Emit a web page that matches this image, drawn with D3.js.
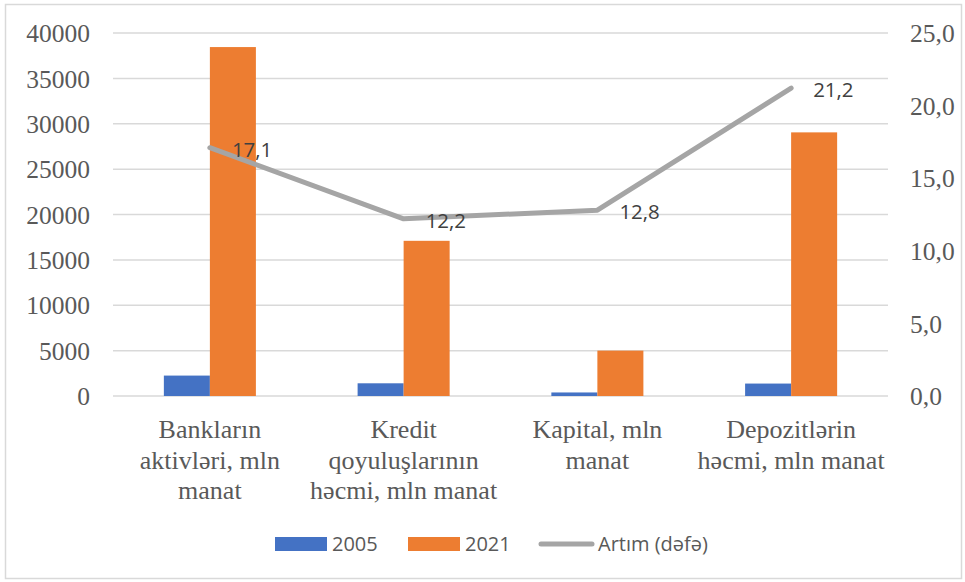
<!DOCTYPE html>
<html>
<head>
<meta charset="utf-8">
<script src="https://cdn.jsdelivr.net/npm/d3@7"></script>
<style>
  html, body { margin: 0; padding: 0; background: #fff; }
  svg { display: block; }
</style>
</head>
<body>
<svg id="chart" width="965" height="582"></svg>
<script>
// Banking sector indicators, 2005 vs 2021, with growth multiple
const categories = [
  ["Bankların", "aktivləri, mln", "manat"],
  ["Kredit", "qoyuluşlarının", "həcmi, mln manat"],
  ["Kapital, mln", "manat"],
  ["Depozitlərin", "həcmi, mln manat"]
];
const categoryKeys = ["assets", "credit", "capital", "deposits"];
const values2005 = [2250, 1400, 390, 1370];
const values2021 = [38450, 17100, 5000, 29050];
const growth = [17.1, 12.2, 12.8, 21.2];
const growthLabels = ["17,1", "12,2", "12,8", "21,2"];
const leftTicks = [0, 5000, 10000, 15000, 20000, 25000, 30000, 35000, 40000];
const rightTicks = [0, 5, 10, 15, 20, 25];
const seriesNames = ["2005", "2021", "Artım (dəfə)"];

const colors = { y2005: "#4472c4", y2021: "#ed7d31", line: "#a5a5a5" };
const serif = "'Liberation Serif', 'Times New Roman', serif";
const sans = "'Open Sans', 'Noto Sans', sans-serif";
const svg = d3.select("#chart");

// frame
svg.append("rect")
  .attr("x", 5.5).attr("y", 4.5).attr("width", 956).attr("height", 574)
  .attr("fill", "#fff").attr("stroke", "#d9d9d9").attr("stroke-width", 1.5);

const plot = { left: 113, right: 888, top: 33, bottom: 396 };

const x = d3.scaleBand().domain(categoryKeys).range([plot.left, plot.right]).padding(0);
const yL = d3.scaleLinear().domain([0, 40000]).range([plot.bottom, plot.top]);
const yR = d3.scaleLinear().domain([0, 25]).range([plot.bottom, plot.top]);

const groupW = x.step() * 0.475;
const xs = d3.scaleBand().domain(["2005", "2021"]).range([0, groupW]).padding(0);
const groupX = k => x(k) + (x.bandwidth() - groupW) / 2;

// gridlines
svg.append("g").selectAll("line").data(leftTicks).join("line")
  .attr("x1", plot.left).attr("x2", plot.right)
  .attr("y1", d => yL(d)).attr("y2", d => yL(d))
  .attr("stroke", "#d9d9d9").attr("stroke-width", 1.5);

// left axis
const axisL = d3.axisLeft(yL).tickValues(leftTicks).tickSize(0).tickPadding(0).tickFormat(d3.format("d"));
const gL = svg.append("g").attr("transform", `translate(90,0)`).call(axisL);
gL.select(".domain").remove();
gL.selectAll("text")
  .attr("font-family", serif)
  .attr("font-size", 25.5).attr("fill", "#595959").attr("dy", "0.34em");

// right axis
const axisR = d3.axisRight(yR).tickValues(rightTicks).tickSize(0).tickPadding(0)
  .tickFormat(d => d3.format(".1f")(d).replace(".", ","));
const gR = svg.append("g").attr("transform", `translate(910,0)`).call(axisR);
gR.select(".domain").remove();
gR.selectAll("text")
  .attr("font-family", serif)
  .attr("font-size", 25.5).attr("fill", "#595959").attr("dy", "0.34em");

// bars
const bars = svg.append("g");
bars.selectAll("rect.b2005").data(categoryKeys).join("rect").attr("class", "b2005")
  .attr("x", (k) => groupX(k) + xs("2005"))
  .attr("width", xs.bandwidth())
  .attr("y", (k, i) => yL(values2005[i]))
  .attr("height", (k, i) => yL(0) - yL(values2005[i]))
  .attr("fill", colors.y2005);
bars.selectAll("rect.b2021").data(categoryKeys).join("rect").attr("class", "b2021")
  .attr("x", (k) => groupX(k) + xs("2021"))
  .attr("width", xs.bandwidth())
  .attr("y", (k, i) => yL(values2021[i]))
  .attr("height", (k, i) => yL(0) - yL(values2021[i]))
  .attr("fill", colors.y2021);

// growth line
const cx = k => x(k) + x.bandwidth() / 2;
const line = d3.line().x((d, i) => cx(categoryKeys[i])).y(d => yR(d));
svg.append("path").datum(growth)
  .attr("d", line).attr("fill", "none")
  .attr("stroke", colors.line).attr("stroke-width", 5)
  .attr("stroke-linecap", "round").attr("stroke-linejoin", "round");

// value labels
svg.append("g").selectAll("text").data(growth).join("text")
  .attr("x", (d, i) => cx(categoryKeys[i]) + 22)
  .attr("y", d => yR(d) + 2)
  .attr("dy", "0.35em")
  .attr("font-family", sans)
  .attr("font-size", 20.5).attr("fill", "#404040")
  .text((d, i) => growthLabels[i]);

// category labels
const cat = svg.append("g");
categoryKeys.forEach((k, i) => {
  const t = cat.append("text")
    .attr("x", cx(k)).attr("y", 438)
    .attr("text-anchor", "middle")
    .attr("font-family", serif)
    .attr("font-size", 26).attr("fill", "#595959");
  categories[i].forEach((ln, j) => {
    t.append("tspan").attr("x", cx(k)).attr("y", 438 + j * 30.5).text(ln);
  });
});

// legend
const leg = svg.append("g")
  .attr("font-family", sans)
  .attr("font-size", 20).attr("fill", "#595959");
leg.append("rect").attr("x", 275).attr("y", 537).attr("width", 52).attr("height", 14).attr("fill", colors.y2005);
leg.append("text").attr("x", 332).attr("y", 544).attr("dy", "0.35em").text(seriesNames[0]);
leg.append("rect").attr("x", 408).attr("y", 537).attr("width", 52).attr("height", 14).attr("fill", colors.y2021);
leg.append("text").attr("x", 465).attr("y", 544).attr("dy", "0.35em").text(seriesNames[1]);
leg.append("line").attr("x1", 541).attr("x2", 592).attr("y1", 544).attr("y2", 544)
  .attr("stroke", colors.line).attr("stroke-width", 5).attr("stroke-linecap", "round");
leg.append("text").attr("x", 598).attr("y", 544).attr("dy", "0.35em").text(seriesNames[2]);
</script>
</body>
</html>
